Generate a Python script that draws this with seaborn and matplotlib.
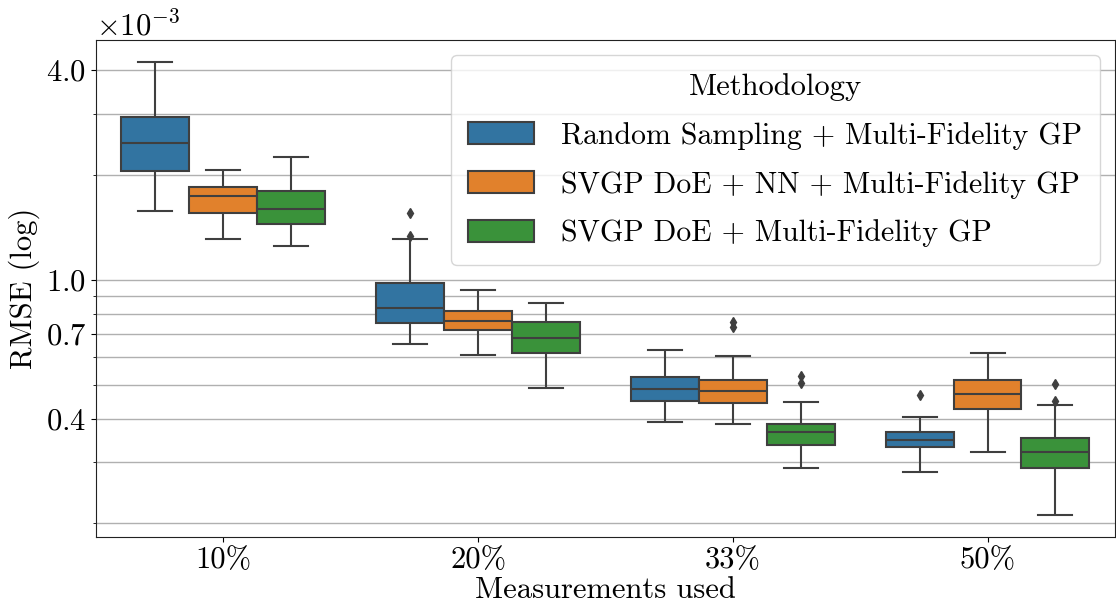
import numpy as np
import pandas as pd
import seaborn as sns
import matplotlib
matplotlib.use("Agg")
import matplotlib.pyplot as plt
from matplotlib.ticker import ScalarFormatter, NullFormatter, LogLocator

# RMSE samples, in units of 1e-3, one list per measurement level
measurements = ["10%", "20%", "33%", "50%"]
methods = ["Random Sampling + Multi-Fidelity GP",
           "SVGP DoE + NN + Multi-Fidelity GP",
           "SVGP DoE + Multi-Fidelity GP"]

random_sampling = [
    [1.58, 1.80, 1.95, 2.05, 2.20, 2.35, 2.47, 2.60, 2.78, 2.93, 3.30, 3.75, 4.22],
    [0.654, 0.69, 0.72, 0.754, 0.78, 0.81, 0.833, 0.88, 0.93, 0.98, 1.31, 1.335, 1.56],
    [0.392, 0.415, 0.435, 0.449, 0.462, 0.475, 0.486, 0.50, 0.512, 0.525, 0.56, 0.60, 0.631],
    [0.281, 0.30, 0.318, 0.332, 0.338, 0.343, 0.348, 0.354, 0.360, 0.367, 0.385, 0.404, 0.467],
]
svgp_nn = [
    [1.31, 1.42, 1.50, 1.56, 1.63, 1.70, 1.745, 1.78, 1.82, 1.85, 1.93, 2.00, 2.07],
    [0.607, 0.65, 0.69, 0.716, 0.73, 0.75, 0.763, 0.78, 0.80, 0.817, 0.86, 0.90, 0.938],
    [0.385, 0.41, 0.43, 0.443, 0.455, 0.47, 0.481, 0.495, 0.505, 0.516, 0.605, 0.735, 0.759],
    [0.321, 0.36, 0.40, 0.425, 0.44, 0.455, 0.470, 0.485, 0.50, 0.517, 0.55, 0.59, 0.619],
]
svgp = [
    [1.25, 1.33, 1.40, 1.444, 1.50, 1.56, 1.60, 1.66, 1.73, 1.80, 1.95, 2.10, 2.25],
    [0.491, 0.54, 0.58, 0.615, 0.64, 0.66, 0.682, 0.71, 0.73, 0.756, 0.79, 0.83, 0.861],
    [0.288, 0.305, 0.322, 0.335, 0.345, 0.356, 0.366, 0.372, 0.379, 0.386, 0.447, 0.505, 0.531],
    [0.212, 0.24, 0.265, 0.288, 0.298, 0.310, 0.320, 0.330, 0.340, 0.351, 0.438, 0.448, 0.503],
]

yticks = [0.4e-3, 0.7e-3, 1.0e-3, 4.0e-3]

# long format table
rows = []
for method, samples in zip(methods, [random_sampling, svgp_nn, svgp]):
    for meas, vals in zip(measurements, samples):
        for v in vals:
            rows.append({"Measurements used": meas, "Methodology": method, "RMSE": v * 1e-3})
df = pd.DataFrame(rows)

plt.rcParams["font.family"] = "cmr10"
plt.rcParams["mathtext.fontset"] = "cm"
plt.rcParams["axes.formatter.use_mathtext"] = True
plt.rcParams["axes.unicode_minus"] = False
plt.rcParams["font.size"] = 22

fig, ax = plt.subplots(figsize=(11.16, 6.08), dpi=100)
fig.subplots_adjust(left=0.086, right=0.999, top=0.934, bottom=0.117)

sns.boxplot(data=df, x="Measurements used", y="RMSE", hue="Methodology",
            order=measurements, hue_order=methods, palette="tab10",
            saturation=0.75, linecolor="#3f3f3f", linewidth=1.5,
            flierprops=dict(marker="d", markerfacecolor="#3f3f3f",
                            markeredgecolor="#3f3f3f", markersize=5),
            ax=ax)

ax.set_yscale("log")
ax.set_ylim(0.183e-3, 4.88e-3)
ax.set_yticks(yticks)
fmt = ScalarFormatter(useMathText=True)
fmt.set_powerlimits((-3, -3))
ax.yaxis.set_major_formatter(fmt)
ax.yaxis.set_minor_locator(LogLocator(base=10, subs=np.arange(2, 10)))
ax.yaxis.set_minor_formatter(NullFormatter())
ax.grid(True, axis="y", which="both", color="#b0b0b0", linewidth=1)
ax.set_axisbelow(True)
for s in ax.spines.values():
    s.set_color("#222222")
ax.tick_params(axis="both", which="major", length=3.5)
ax.tick_params(axis="y", which="minor", length=2)

ax.set_ylabel("RMSE (log)")
ax.set_xlabel("Measurements used", labelpad=2)
ax.legend(title="Methodology", loc="upper right", fontsize=21.5, title_fontsize=22,
          handlelength=2.2, handleheight=0.77, handletextpad=0.9,
          labelspacing=0.7, borderpad=0.6)

fig.savefig("out.png", dpi=100)
